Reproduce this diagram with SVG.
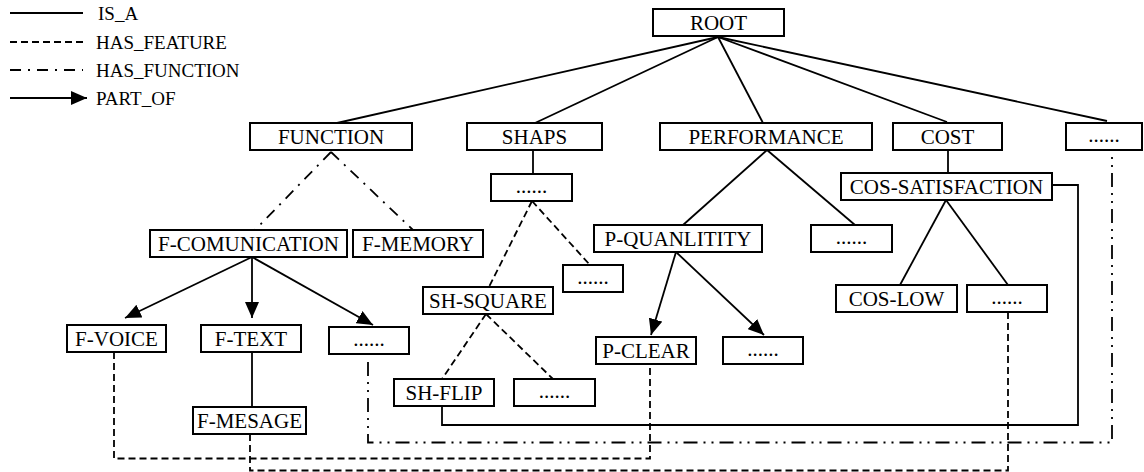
<svg xmlns="http://www.w3.org/2000/svg" width="1144" height="472" viewBox="0 0 1144 472">
  <style>
    .box { fill: #fff; stroke: #000; stroke-width: 2; }
    text { font-family: "Liberation Serif", "Times New Roman", Times, "DejaVu Serif", "Noto Serif", serif; fill: #000; }
    .lbl { font-size: 21px; text-anchor: middle; }
    .leg { font-size: 19px; }
    .isa { fill: none; stroke: #000; stroke-width: 1.8; }
    .feat { fill: none; stroke: #000; stroke-width: 1.8; stroke-dasharray: 7 4; }
    .func { fill: none; stroke: #000; stroke-width: 1.8; stroke-dasharray: 11 7 2 7; }
    .func2 { fill: none; stroke: #000; stroke-width: 1.8; stroke-dasharray: 14 6 2 6 2 6; }
    .part { fill: none; stroke: #000; stroke-width: 1.8; marker-end: url(#arrow); }
  </style>
  <defs>
    <marker id="arrow" markerUnits="userSpaceOnUse" markerWidth="16" markerHeight="14" refX="16" refY="7" orient="auto">
      <path d="M0,0 L16,7 L0,14 Z" fill="#000"/>
    </marker>
  </defs>

  <!-- legend -->
  <g id="legend">
    <line class="isa" x1="10" y1="13" x2="83" y2="13"/>
    <text class="leg" x="98" y="20">IS_A</text>
    <line class="feat" x1="10" y1="42" x2="83" y2="42"/>
    <text class="leg" x="96" y="49">HAS_FEATURE</text>
    <line class="func" x1="10" y1="70" x2="83" y2="70"/>
    <text class="leg" x="96" y="77">HAS_FUNCTION</text>
    <line class="part" x1="10" y1="98" x2="87" y2="98"/>
    <text class="leg" x="96" y="105">PART_OF</text>
  </g>

  <!-- connectors -->
  <g id="connectors">
    <!-- ROOT fan -->
    <line class="isa" x1="718" y1="37" x2="337" y2="123"/>
    <line class="isa" x1="718" y1="37" x2="535" y2="123"/>
    <line class="isa" x1="718" y1="37" x2="763" y2="123"/>
    <line class="isa" x1="718" y1="37" x2="947" y2="122"/>
    <line class="isa" x1="718" y1="37" x2="1107" y2="121"/>
    <!-- FUNCTION branch -->
    <line class="func" x1="331" y1="152" x2="255" y2="230"/>
    <line class="func" x1="331" y1="152" x2="413" y2="230"/>
    <line class="part" x1="252" y1="257" x2="125" y2="318"/>
    <line class="part" x1="252" y1="257" x2="252" y2="318"/>
    <line class="part" x1="252" y1="257" x2="373" y2="325"/>
    <line class="isa" x1="252" y1="352" x2="252" y2="407"/>
    <!-- SHAPS branch -->
    <line class="isa" x1="533" y1="150" x2="533" y2="174"/>
    <line class="feat" x1="532" y1="201" x2="489" y2="287"/>
    <line class="feat" x1="532" y1="201" x2="590" y2="265"/>
    <line class="feat" x1="486" y1="314" x2="442" y2="379"/>
    <line class="feat" x1="486" y1="314" x2="553" y2="379"/>
    <!-- PERFORMANCE branch -->
    <line class="isa" x1="767" y1="150" x2="683" y2="225"/>
    <line class="isa" x1="767" y1="150" x2="855" y2="225"/>
    <line class="part" x1="676" y1="252" x2="651" y2="335"/>
    <line class="part" x1="676" y1="252" x2="764" y2="335"/>
    <!-- COST branch -->
    <line class="isa" x1="948" y1="150" x2="948" y2="173"/>
    <line class="isa" x1="946" y1="200" x2="900" y2="285"/>
    <line class="isa" x1="946" y1="200" x2="1008" y2="285"/>
    <!-- cross links along the bottom -->
    <path class="isa" d="M1052,185 H1078 V425 H442 V406"/>
    <path class="func2" d="M368,362 V442.5 H1112 V150"/>
    <path class="feat" d="M114,352 V458.5 H650 V364"/>
    <path class="feat" d="M250,434 V470.5 H1008 V312"/>
  </g>

  <!-- nodes -->
  <g id="root"><rect class="box" x="653" y="9" width="131" height="27"/><text class="lbl" x="718.5" y="30">ROOT</text></g>
  <g id="function"><rect class="box" x="250" y="123" width="162" height="27"/><text class="lbl" x="331" y="144">FUNCTION</text></g>
  <g id="shaps"><rect class="box" x="467" y="123" width="135" height="27"/><text class="lbl" x="534.5" y="144">SHAPS</text></g>
  <g id="performance"><rect class="box" x="660" y="123" width="212" height="27"/><text class="lbl" x="766" y="144">PERFORMANCE</text></g>
  <g id="cost"><rect class="box" x="893" y="123" width="109" height="27"/><text class="lbl" x="947.5" y="144">COST</text></g>
  <g id="more-top"><rect class="box" x="1066" y="123" width="76" height="27"/><text class="lbl" x="1104" y="142">......</text></g>
  <g id="shaps-more"><rect class="box" x="491" y="174" width="81" height="27"/><text class="lbl" x="531.5" y="193">......</text></g>
  <g id="cos-satisfaction"><rect class="box" x="841" y="173" width="211" height="27"/><text class="lbl" x="946.5" y="194">COS-SATISFACTION</text></g>
  <g id="f-comunication"><rect class="box" x="150" y="230" width="197" height="27"/><text class="lbl" x="248.5" y="251">F-COMUNICATION</text></g>
  <g id="f-memory"><rect class="box" x="353" y="230" width="130" height="27"/><text class="lbl" x="418" y="251">F-MEMORY</text></g>
  <g id="p-quanlitity"><rect class="box" x="594" y="225" width="168" height="27"/><text class="lbl" x="678" y="246">P-QUANLITITY</text></g>
  <g id="perf-more"><rect class="box" x="811" y="225" width="81" height="27"/><text class="lbl" x="851.5" y="244">......</text></g>
  <g id="shaps-more-2"><rect class="box" x="563" y="265" width="60" height="27"/><text class="lbl" x="593" y="284">......</text></g>
  <g id="sh-square"><rect class="box" x="423" y="287" width="130" height="27"/><text class="lbl" x="488" y="308">SH-SQUARE</text></g>
  <g id="cos-low"><rect class="box" x="836" y="285" width="121" height="27"/><text class="lbl" x="896.5" y="306">COS-LOW</text></g>
  <g id="cos-more"><rect class="box" x="967" y="285" width="80" height="27"/><text class="lbl" x="1007" y="304">......</text></g>
  <g id="f-voice"><rect class="box" x="67" y="325" width="99" height="27"/><text class="lbl" x="116.5" y="346">F-VOICE</text></g>
  <g id="f-text"><rect class="box" x="201" y="325" width="100" height="27"/><text class="lbl" x="251" y="346">F-TEXT</text></g>
  <g id="fcom-more"><rect class="box" x="329" y="327" width="80" height="27"/><text class="lbl" x="369" y="346">......</text></g>
  <g id="p-clear"><rect class="box" x="596" y="337" width="100" height="27"/><text class="lbl" x="646" y="358">P-CLEAR</text></g>
  <g id="p-more"><rect class="box" x="723" y="337" width="80" height="27"/><text class="lbl" x="763" y="356">......</text></g>
  <g id="sh-flip"><rect class="box" x="394" y="379" width="100" height="27"/><text class="lbl" x="444" y="400">SH-FLIP</text></g>
  <g id="sh-more"><rect class="box" x="514" y="379" width="81" height="27"/><text class="lbl" x="554.5" y="398">......</text></g>
  <g id="f-mesage"><rect class="box" x="193" y="407" width="113" height="27"/><text class="lbl" x="249.5" y="428">F-MESAGE</text></g>
</svg>
